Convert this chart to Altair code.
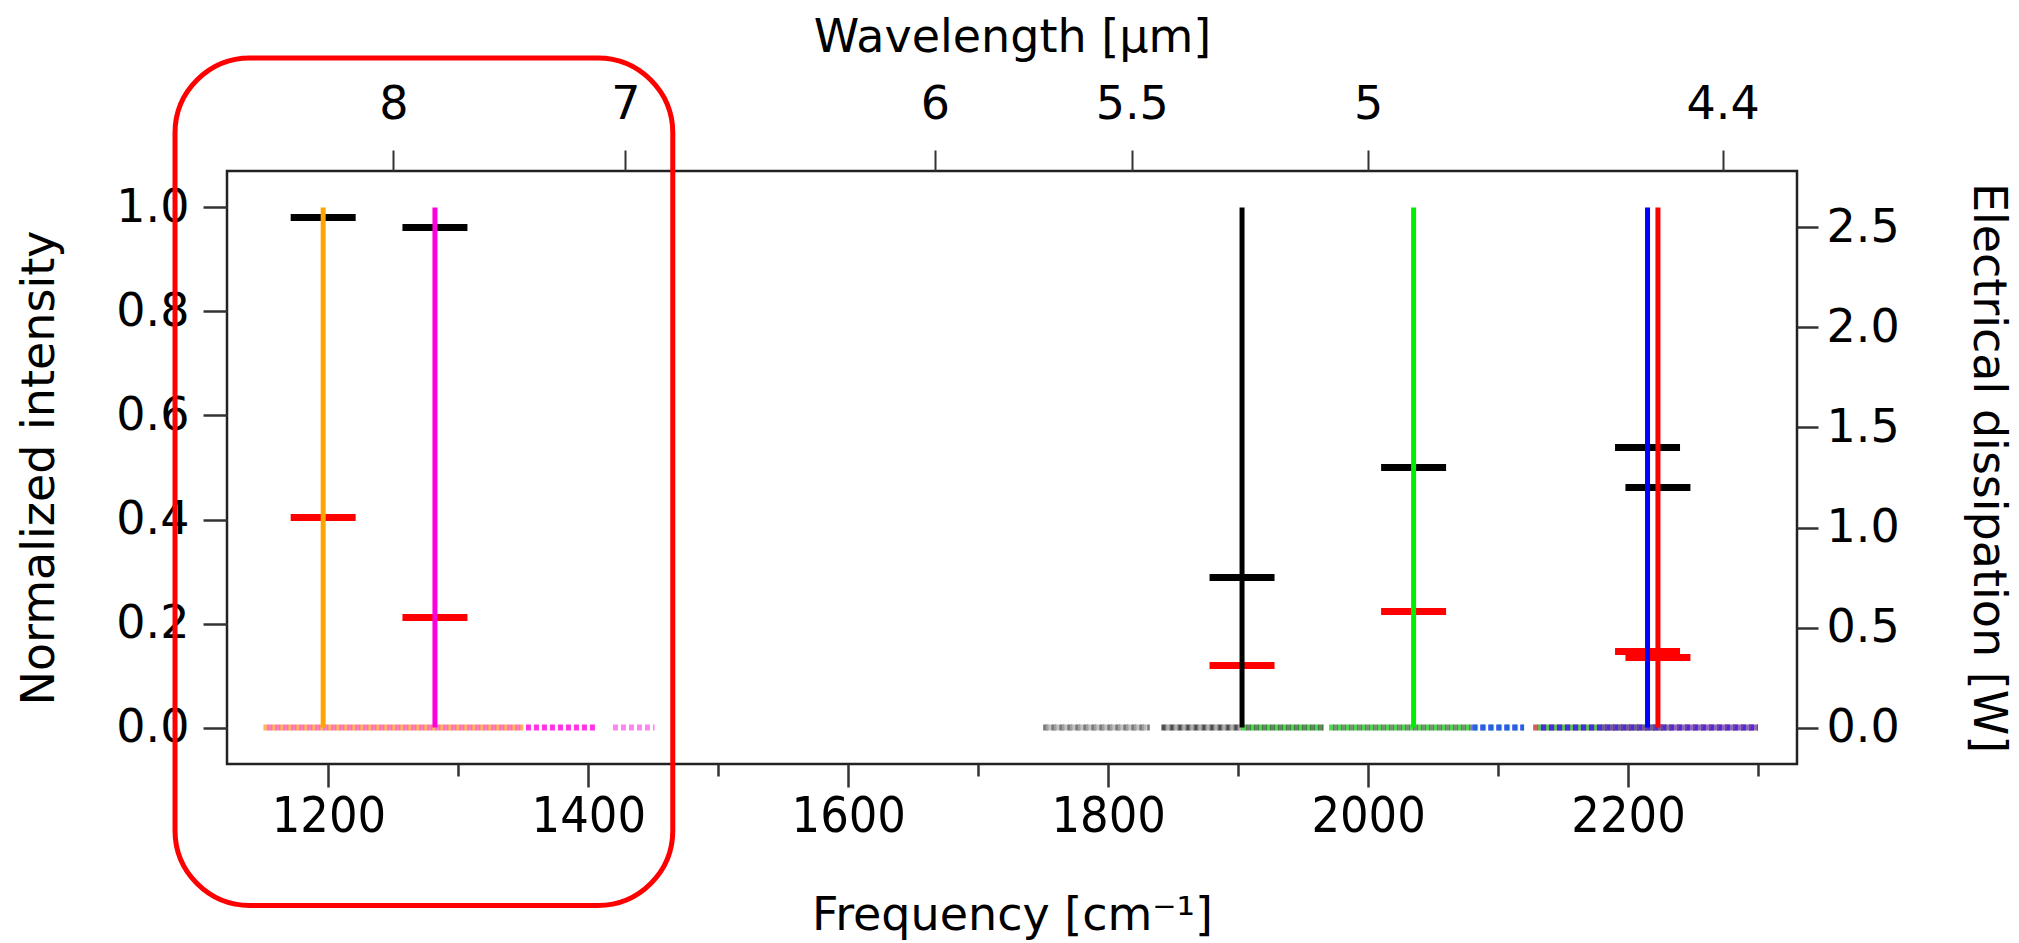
import altair as alt
import pandas as pd

# ---------------- data ----------------
peak_freq = [1196, 1282, 1903, 2035, 2215, 2223]          # cm^-1
peak_height = [1.0, 1.0, 1.0, 1.0, 1.0, 1.0]              # normalized intensity
peak_base = [0.0, 0.0, 0.0, 0.0, 0.0, 0.0]
peak_color = ["#FFA500", "#FF00DD", "#000000", "#00EE00", "#0000FF", "#FF0000"]

dissipation_black_W = [2.55, 2.50, 0.75, 1.30, 1.40, 1.20]
dissipation_red_W = [1.05, 0.55, 0.31, 0.58, 0.38, 0.35]

noise_start = [1150, 1153, 1352, 1419, 1750, 1752, 1841, 1844, 1903, 1906, 1970, 1973, 2080, 2127, 2130, 2133, 2180]
noise_end = [1350, 1350, 1407, 1451, 1832, 1832, 1903, 1903, 1966, 1966, 2120, 2080, 2120, 2300, 2230, 2300, 2300]
noise_level = [0.0] * 17
noise_color = ["#FFA040", "#FF5CA8", "#FF00DD", "#FF66EE", "#555555", "#AAAAAA",
               "#222222", "#999999", "#22CC22", "#446644", "#22CC22", "#557755",
               "#2244FF", "#CC3333", "#33AA33", "#2222FF", "#7744AA"]

freq_ticks = [1200, 1300, 1400, 1500, 1600, 1700, 1800, 1900, 2000, 2100, 2200, 2300]
wavelength_ticks = [8, 7, 6, 5.5, 5, 4.4]                  # micrometres
intensity_ticks = [0.0, 0.2, 0.4, 0.6, 0.8, 1.0]
power_ticks = [0.0, 0.5, 1.0, 1.5, 2.0, 2.5]

freq_domain = [1122, 2330]
intensity_domain = [-0.07, 1.07]
power_domain = [-0.182, 2.782]

box_freq = [1082, 1465]
box_intensity = [-0.342, 1.287]

# ---------------- tables ----------------
peaks = pd.DataFrame({"freq": peak_freq, "height": peak_height, "base": peak_base, "color": peak_color})
noise = pd.DataFrame({"start": noise_start, "end": noise_end, "level": noise_level, "color": noise_color})
markers = pd.DataFrame({
    "freq": peak_freq + peak_freq,
    "W": dissipation_black_W + dissipation_red_W,
    "color": ["#000000"] * len(peak_freq) + ["#FF0000"] * len(peak_freq),
})
box = pd.DataFrame({"x0": [box_freq[0]], "x1": [box_freq[1]], "y0": [box_intensity[0]], "y1": [box_intensity[1]]})

FONT = "DejaVu Sans"
NARROW = "Liberation Sans Narrow, DejaVu Sans Condensed, DejaVu Sans"
TICK = "#333333"

x_scale = alt.Scale(domain=freq_domain, nice=False, zero=False)
yl_scale = alt.Scale(domain=intensity_domain, nice=False, zero=False)
yr_scale = alt.Scale(domain=power_domain, nice=False, zero=False)

bottom_axis = alt.Axis(
    orient="bottom", values=freq_ticks, format="d",
    labelExpr="datum.value % 200 == 0 ? datum.label : ''",
    tickSize={"condition": {"test": "datum.value % 200 == 0", "value": 23}, "value": 12},
    tickWidth=2.5, tickColor=TICK, domain=False, grid=False,
    labelFont=NARROW, labelFontSize=50, labelColor="black", labelPadding=4,
    labelFlush=False, labelOverlap=False,
    titleFont=FONT, titleFontSize=46, titleFontWeight="normal", titleColor="black", titlePadding=52,
)
top_axis = alt.Axis(
    orient="top", values=[10000 / w for w in wavelength_ticks],
    labelExpr="format(10000 / datum.value, '.2~r')",
    tickSize=21, tickWidth=2, tickColor=TICK, domain=False, grid=False,
    labelFont=FONT, labelFontSize=46, labelColor="black", labelPadding=22,
    labelFlush=False, labelOverlap=False,
    titleFont=FONT, titleFontSize=46, titleFontWeight="normal", titleColor="black", titlePadding=20,
)
left_axis = alt.Axis(
    orient="left", values=intensity_ticks, format=".1f",
    tickSize=24, tickWidth=2.5, tickColor=TICK, domain=False, grid=False,
    labelFont=FONT, labelFontSize=46, labelColor="black", labelPadding=14,
    labelOverlap=False, labelFlush=False,
    titleFont=FONT, titleFontSize=46, titleFontWeight="normal", titleColor="black", titlePadding=52,
)
right_axis = alt.Axis(
    orient="right", values=power_ticks, format=".1f",
    tickSize=21, tickWidth=2.5, tickColor=TICK, domain=False, grid=False,
    labelFont=FONT, labelFontSize=46, labelColor="black", labelPadding=8,
    labelOverlap=False, labelFlush=False,
    titleFont=FONT, titleFontSize=46, titleFontWeight="normal", titleColor="black", titlePadding=64,
)

X_TITLE = "Frequency [cm\u207b\u00b9]"
YL_TITLE = "Normalized intensity"


def XB(field):
    return alt.X(field, type="quantitative", scale=x_scale, axis=bottom_axis, title=X_TITLE)


def YL(field):
    return alt.Y(field, type="quantitative", scale=yl_scale, axis=left_axis, title=YL_TITLE)


HALF = 25  # half width of the dissipation markers, cm^-1

marker_layer = alt.Chart(markers).transform_calculate(
    lo=f"datum.freq - {HALF}", hi=f"datum.freq + {HALF}"
).mark_rule(strokeWidth=7).encode(
    x=alt.X("lo:Q", scale=x_scale, axis=top_axis, title="Wavelength [\u03bcm]"),
    x2="hi:Q",
    y=alt.Y("W:Q", scale=yr_scale, axis=right_axis, title="Electrical dissipation [W]"),
    color=alt.Color("color:N", scale=None),
)

noise_layer = alt.Chart(noise).mark_rule(strokeWidth=6, strokeDash=[5, 3], opacity=0.8).encode(
    x=XB("start"), x2="end", y=YL("level"), color=alt.Color("color:N", scale=None),
)

peak_layer = alt.Chart(peaks).mark_rule(strokeWidth=5).encode(
    x=XB("freq"), y=YL("height"), y2="base", color=alt.Color("color:N", scale=None),
)

box_layer = alt.Chart(box).mark_rect(
    fillOpacity=0, stroke="#FF0000", strokeWidth=5, cornerRadius=75
).encode(x=XB("x0"), x2="x1", y=YL("y0"), y2="y1")

inner = alt.layer(noise_layer, peak_layer, box_layer)

chart = alt.layer(marker_layer, inner).resolve_scale(
    x="independent", y="independent"
).resolve_axis(
    x="independent", y="independent"
).properties(
    width=1570, height=593,
    autosize=alt.AutoSizeParams(type="none"),
    padding={"left": 227, "top": 171, "right": 222, "bottom": 179},
    background="white",
).configure_view(stroke="#222222", strokeWidth=2.5)

chart.save("out.html", embed_options={"renderer": "svg", "actions": False})
